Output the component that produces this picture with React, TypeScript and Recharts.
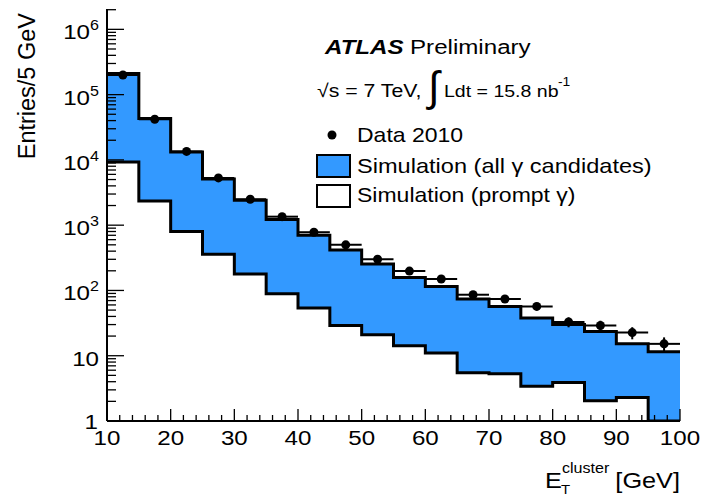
import React from 'react';
import { ComposedChart, Area, Scatter, XAxis, YAxis, ErrorBar } from 'recharts';

// 5 GeV bins from 10 to 100 GeV
const binEdges = [10, 15, 20, 25, 30, 35, 40, 45, 50, 55, 60, 65, 70, 75, 80, 85, 90, 95, 100];
const binCenters = [12.5, 17.5, 22.5, 27.5, 32.5, 37.5, 42.5, 47.5, 52.5, 57.5, 62.5, 67.5, 72.5, 77.5, 82.5, 87.5, 92.5, 97.5];

// Simulation (all gamma candidates)
const allGamma = [2.1e5, 4.3e4, 1.32e4, 5.1e3, 2.4e3, 1.22e3, 700, 415, 255, 158, 115, 74, 57, 38, 30, 23.4, 15.2, 11.5];
// Simulation (prompt gamma)
const promptGamma = [9.3e3, 2.35e3, 800, 360, 178, 89, 54, 29, 21, 14.2, 11, 5.5, 5.3, 3.4, 3.9, 2.05, 2.3, 0];
// Data 2010
const data2010 = [2.0e5, 4.2e4, 1.35e4, 5.3e3, 2.5e3, 1.35e3, 780, 500, 300, 198, 150, 86, 74, 57, 33, 29, 22.6, 15.2];

const xLabels = [10, 20, 30, 40, 50, 60, 70, 80, 90, 100];

const W = 701;
const H = 496;
const Y_MIN = 1;
const Y_MAX = 2.05e6;
const FONT = '"Liberation Sans", Arial, Helvetica, sans-serif';
const SX = 1.15; // text in the picture is a bit wider than Arial
const BLUE = '#3399ff';

// step table: each bin value held until the next edge, last bin repeated at 100
const histData = binEdges.map((x, i) => {
  const b = Math.min(i, allGamma.length - 1);
  return { x, all: allGamma[b], prompt: Math.max(promptGamma[b], Y_MIN) };
});

const pointData = binCenters.map((x, i) => ({
  x,
  y: data2010[i],
  ex: 2.5,
  ey: Math.sqrt(data2010[i]),
}));

const xTicks = Array.from({ length: 46 }, (_, i) => 10 + 2 * i);
const yTicks: number[] = [];
for (let d = 0; d <= 6; d++) {
  for (let m = 1; m <= 9; m++) {
    const v = m * Math.pow(10, d);
    if (v <= Y_MAX) yTicks.push(v);
  }
}
const isDecade = (v: number) => Math.abs(Math.log10(v) - Math.round(Math.log10(v))) < 1e-9;

const Txt = ({ x, y, size, anchor = 'start', sx = SX, weight, italic, children }: any) => (
  <g transform={`translate(${x},${y}) scale(${sx},1)`}>
    <text
      x={0}
      y={0}
      fontSize={size}
      textAnchor={anchor}
      fontFamily={FONT}
      fontWeight={weight}
      fontStyle={italic ? 'italic' : undefined}
      fill="#000"
    >
      {children}
    </text>
  </g>
);

const BottomTick = ({ x, y, payload }: any) => {
  const v = payload.value;
  const major = xLabels.includes(v);
  return (
    <g>
      <line x1={x} x2={x} y1={y} y2={y - (major ? 12 : 6)} stroke="#000" strokeWidth={1.3} />
      {major && (
        <Txt x={x} y={y + 24} size={21} anchor="middle">
          {v}
        </Txt>
      )}
    </g>
  );
};

const TopTick = ({ x, y, payload }: any) => {
  const major = xLabels.includes(payload.value);
  return <line x1={x} x2={x} y1={y} y2={y + (major ? 12 : 6)} stroke="#000" strokeWidth={1.3} />;
};

const LeftTick = ({ x, y, payload }: any) => {
  const v = payload.value;
  const major = isDecade(v);
  const exp = Math.round(Math.log10(v));
  return (
    <g>
      <line x1={x} x2={x + (major ? 17 : 9)} y1={y} y2={y} stroke="#000" strokeWidth={1.3} />
      {major && (
        <Txt x={exp === 0 ? x - 9 : x - 8} y={exp === 0 ? y + 8 : y + 10} size={21} anchor="end">
          {exp === 0 ? '1' : exp === 1 ? '10' : (
            <>
              10
              <tspan dy={-9} fontSize={14}>
                {exp}
              </tspan>
            </>
          )}
        </Txt>
      )}
    </g>
  );
};

const RightTick = ({ x, y, payload }: any) => {
  const major = isDecade(payload.value);
  return <line x1={x} x2={x - (major ? 17 : 9)} y1={y} y2={y} stroke="#000" strokeWidth={1.3} />;
};

const Dot = (p: any) => <circle cx={p.cx} cy={p.cy} r={4.5} fill="#000" />;

export default function App() {
  return (
    <div style={{ position: 'absolute', left: 0, top: 0, width: W, height: H, background: '#fff' }}>
      <ComposedChart
        width={W}
        height={H}
        data={histData}
        margin={{ top: 9, right: 21, bottom: 45, left: 0 }}
        style={{ fontFamily: FONT }}
      >
        <Area
          dataKey="all"
          type="stepAfter"
          fill={BLUE}
          fillOpacity={1}
          stroke="#000"
          strokeWidth={3}
          baseValue={Y_MIN}
          dot={false}
          activeDot={false}
          isAnimationActive={false}
        />
        <Area
          dataKey="prompt"
          type="stepAfter"
          fill="#fff"
          fillOpacity={1}
          stroke="#000"
          strokeWidth={3}
          baseValue={Y_MIN}
          dot={false}
          activeDot={false}
          isAnimationActive={false}
        />
        <Scatter data={pointData} dataKey="y" shape={Dot} isAnimationActive={false}>
          <ErrorBar dataKey="ex" direction="x" width={0} stroke="#000" strokeWidth={2} />
          <ErrorBar dataKey="ey" direction="y" width={0} stroke="#000" strokeWidth={2} />
        </Scatter>

        <XAxis
          dataKey="x"
          type="number"
          domain={[10, 100]}
          allowDataOverflow
          ticks={xTicks}
          interval={0}
          height={30}
          tickSize={0}
          tickMargin={0}
          tickLine={false}
          tick={<BottomTick />}
          axisLine={{ stroke: '#000', strokeWidth: 2 }}
        />
        <XAxis
          xAxisId="top"
          orientation="top"
          type="number"
          domain={[10, 100]}
          allowDataOverflow
          ticks={xTicks}
          interval={0}
          height={0}
          tickSize={0}
          tickMargin={0}
          tickLine={false}
          tick={<TopTick />}
          axisLine={{ stroke: '#000', strokeWidth: 2 }}
        />
        <YAxis
          type="number"
          scale="log"
          domain={[Y_MIN, Y_MAX]}
          allowDataOverflow
          ticks={yTicks}
          interval={0}
          width={107}
          tickSize={0}
          tickMargin={0}
          tickLine={false}
          tick={<LeftTick />}
          axisLine={{ stroke: '#000', strokeWidth: 2 }}
        />
        <YAxis
          yAxisId="right"
          orientation="right"
          type="number"
          scale="log"
          domain={[Y_MIN, Y_MAX]}
          allowDataOverflow
          ticks={yTicks}
          interval={0}
          width={0}
          tickSize={0}
          tickMargin={0}
          tickLine={false}
          tick={<RightTick />}
          axisLine={{ stroke: '#000', strokeWidth: 2 }}
        />
      </ComposedChart>

      <svg
        width={W}
        height={H}
        style={{ position: 'absolute', left: 0, top: 0, pointerEvents: 'none' }}
      >
        {/* axis titles */}
        <text
          transform="translate(35,13) rotate(-90)"
          fontSize={23.5}
          fontFamily={FONT}
          textAnchor="end"
          fill="#000"
        >
          Entries/5 GeV
        </text>
        <Txt x={680} y={488} size={22} anchor="end">
          [GeV]
        </Txt>
        <Txt x={545} y={488} size={22}>
          E
        </Txt>
        <Txt x={561} y={494} size={13}>
          T
        </Txt>
        <Txt x={562} y={473} size={14}>
          cluster
        </Txt>

        {/* ATLAS label */}
        <Txt x={325} y={54} size={21} weight="bold" italic>
          ATLAS
        </Txt>
        <Txt x={410} y={54} size={21}>
          Preliminary
        </Txt>
        <Txt x={317} y={97} size={18.5}>
          √s = 7 TeV,
        </Txt>
        <text x={428} y={101} fontSize={42} fontFamily={FONT} fill="#000">
          ∫
        </text>
        <Txt x={444} y={97} size={17}>
          Ldt = 15.8 nb
        </Txt>
        <Txt x={558} y={86} size={12}>
          -1
        </Txt>

        {/* legend */}
        <circle cx={332} cy={135} r={4.5} fill="#000" />
        <Txt x={357} y={142} size={20}>
          Data 2010
        </Txt>
        <rect x={317} y={155} width={33} height={22} fill={BLUE} stroke="#000" strokeWidth={2} />
        <Txt x={357} y={173} size={20.5}>
          Simulation (all γ candidates)
        </Txt>
        <rect x={317} y={185} width={33} height={22} fill="#fff" stroke="#000" strokeWidth={2} />
        <Txt x={357} y={202} size={20}>
          Simulation (prompt γ)
        </Txt>
      </svg>
    </div>
  );
}
